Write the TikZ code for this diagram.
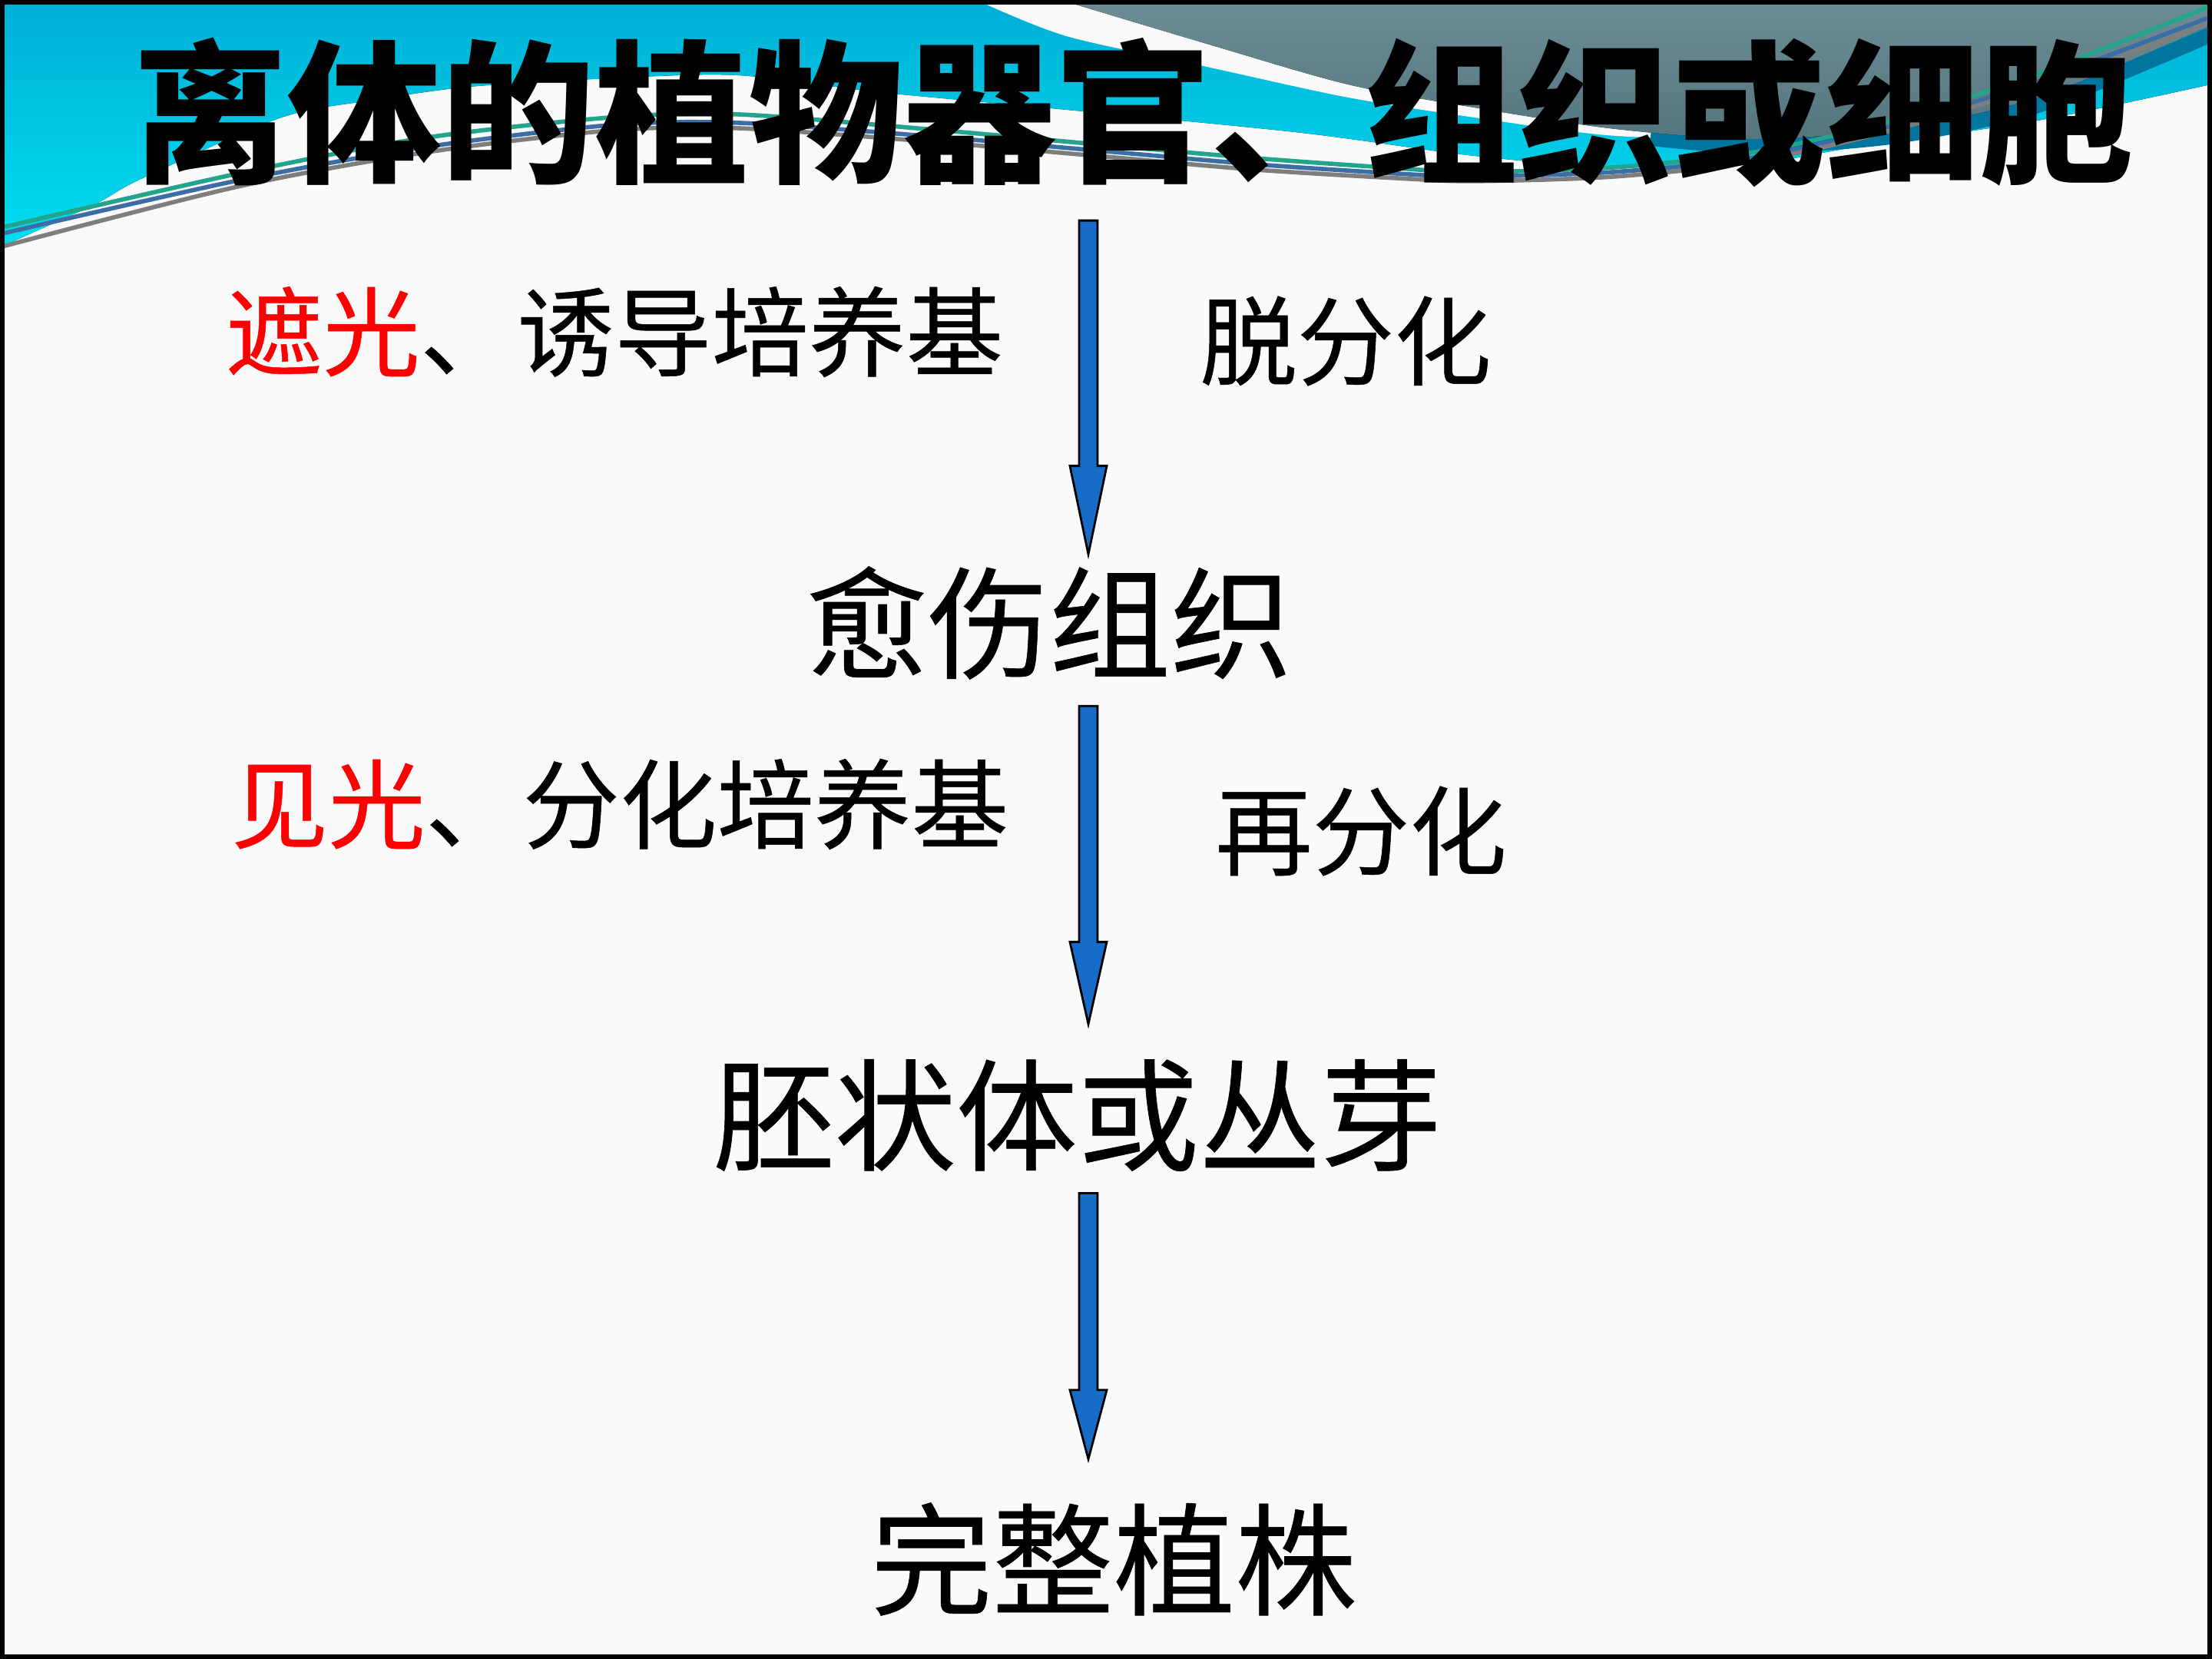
\documentclass[tikz,border=0pt]{standalone}
\usepackage{fontspec}
\usepackage{xcolor}
\usepackage{tikz}
\usetikzlibrary{arrows.meta,positioning,calc}
\setmainfont{Noto Sans CJK SC}
\newfontfamily\cjk[FakeBold=0.4]{Noto Sans CJK SC}
\newfontfamily\cjkhead{Noto Sans CJK SC}
\definecolor{paper}{HTML}{FAFAFA}
\definecolor{bannertop}{HTML}{00AFD6}
\definecolor{bannermid}{HTML}{008CBE}
\definecolor{bannerlow}{HTML}{00DDF0}
\definecolor{swooshtop}{HTML}{6C8D93}
\definecolor{swooshlow}{HTML}{557680}
\definecolor{deepband}{HTML}{00759E}
\definecolor{lineteal}{HTML}{22A58C}
\definecolor{linesteel}{HTML}{3C6EA5}
\definecolor{linegray}{HTML}{7E7E7E}
\definecolor{arrowblue}{HTML}{176CC8}
\definecolor{keyred}{HTML}{FF0000}
\tikzset{
  heading/.style={inner sep=0pt,font=\cjkhead\bfseries\fontsize{57pt}{60pt}\selectfont},
  stage/.style={inner sep=0pt,font=\cjk\fontsize{45pt}{48pt}\selectfont},
  cond/.style={inner sep=0pt,font=\cjk\fontsize{36pt}{40pt}\selectfont},
  proc/.style={inner sep=0pt,font=\cjk\fontsize{36pt}{40pt}\selectfont},
  blockarrow/.style={draw=black,fill=arrowblue,line width=0.8pt,line join=miter}
}
% block arrow: start, tip, head length
\newcommand{\flowarrow}[3]{%
  \draw[blockarrow] let \p1=(#1), \p2=(#2) in
    (\x1-1.2mm,\y1) -- (\x1+1.2mm,\y1) -- (\x1+1.2mm,\y2+#3) -- (\x1+2.4mm,\y2+#3)
    -- (\x1,\y2) -- (\x1-2.4mm,\y2+#3) -- (\x1-1.2mm,\y2+#3) -- cycle;}

\begin{document}
\begin{tikzpicture}[
  banner/.style={top color=bannertop,middle color=bannermid,bottom color=bannerlow},
  swoosh/.style={top color=swooshtop,bottom color=swooshlow},
  thread/.style={line width=1.6pt}
]
  \useasboundingbox (0,0) rectangle (28.8,21.6);
  \fill[paper] (0,0) rectangle (28.8,21.6);

  % banner, in pixel units from the top left corner
  \begin{scope}[x=0.01cm,y=-0.01cm,yshift=21.6cm]
    \fill[banner] (0,0) -- (2880,0) -- plot[smooth] coordinates {(2880,110) (2655,157) (2410,193) (2287,213) (2104,218) (1920,203) (1695,173) (1389,143) (1144,120) (960,98) (796,102) (612,113) (490,130) (367,153) (184,233) (122,267) (0,322)} -- cycle;
    \fill[paper] plot[smooth] coordinates {(1272,0) (1389,47) (1572,87) (1756,127) (1920,153) (2104,177) (2287,178) (2471,158) (2655,118) (2880,25)} -- (2880,0) -- cycle;
    \draw[deepband,line width=0.2cm] plot[smooth] coordinates {(2150,180) (2287,190) (2471,177) (2655,137) (2880,45)};
    \fill[swoosh] plot[smooth] coordinates {(1382,0) (1572,57) (1756,110) (1920,140) (2104,168) (2287,181) (2471,167) (2655,127) (2880,33)} -- (2880,0) -- cycle;
    \draw[thread,lineteal] plot[smooth] coordinates {(0,297) (306,227) (551,180) (796,153) (960,149) (1205,168) (1450,190) (1634,206) (1817,219) (1920,224) (2104,218) (2287,198) (2471,156) (2655,96) (2880,8)};
    \draw[thread,linesteel] plot[smooth] coordinates {(0,305) (306,236) (551,192) (796,163) (960,160) (1205,177) (1450,198) (1634,214) (1817,226) (1920,230) (2104,224) (2287,205) (2471,163) (2655,106) (2880,22)};
    \draw[thread,linegray] plot[smooth] coordinates {(0,322) (306,244) (551,199) (796,170) (960,167) (1205,184) (1450,205) (1634,221) (1817,232) (1920,236) (2104,230) (2287,210) (2471,168) (2655,112) (2880,30)};
  \end{scope}

  \coordinate (axis) at (14.17,0);

  \node[heading] (source) at (14.76,20.13) {离体的植物器官、组织或细胞};
  \node[cond] (induce) at (8.00,17.28) {\textcolor{keyred}{遮光}、诱导培养基};
  \node[proc] (dedif) at (17.52,17.16) {脱分化};
  \node[stage] (callus) at (13.66,13.49) {愈伤组织};
  \node[cond] (expose) at (8.07,11.13) {\textcolor{keyred}{见光}、分化培养基};
  \node[proc] (redif) at (17.72,10.78) {再分化};
  \node[stage] (embryo) at (14.03,7.08) {胚状体或丛芽};
  \node[stage] (plant) at (14.50,1.30) {完整植株};

  \flowarrow{$(source.south -| axis)+(0,-0.42)$}{$(callus.north -| axis)+(0,0.15)$}{1.15cm}
  \flowarrow{$(callus.south -| axis)+(0,-0.34)$}{$(embryo.north -| axis)+(0,0.45)$}{1.07cm}
  \flowarrow{$(embryo.south -| axis)+(0,-0.28)$}{$(plant.north -| axis)+(0,0.56)$}{0.90cm}

  \draw[line width=0.06cm] (0.03,0.03) rectangle (28.77,21.57);
\end{tikzpicture}
\end{document}
